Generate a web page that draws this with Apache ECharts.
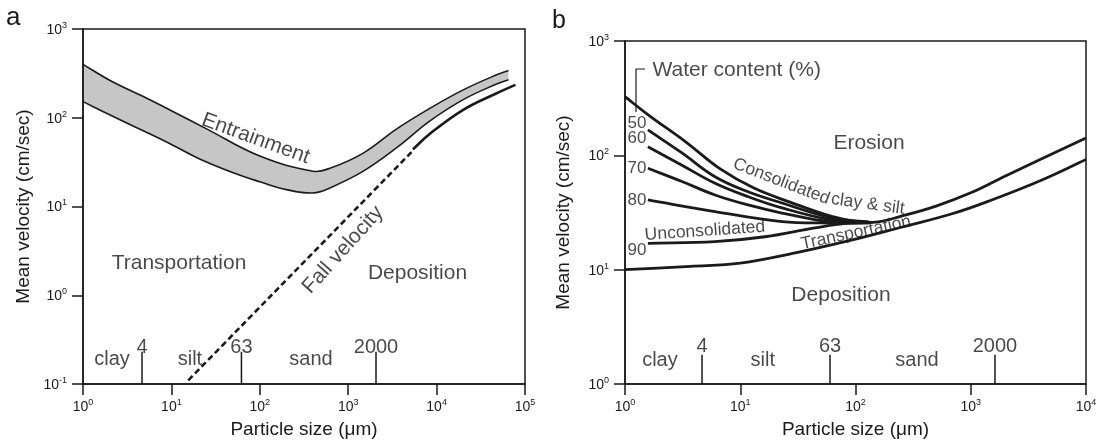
<!DOCTYPE html>
<html><head><meta charset="utf-8">
<script src="https://cdn.jsdelivr.net/npm/echarts@6/dist/echarts.min.js"></script>
<style>html,body{margin:0;padding:0;background:#fff}#c{width:1099px;height:447px}</style>
</head><body><div id="c"></div>
<script>
// ---------- Panel a data ----------
const aXRange = [1, 1e5];
const aYRange = [0.1, 1000];
const entUpper = [[1,400],[2,265],[5,170],[10,120],[25,75],[100,37],[400,25],[622,27],[1482,40],[3540,75],[8420,128],[20000,206],[47800,305],[65000,340]];
const entLower = [[1,152],[2,108],[5,70],[10,50],[20,35],[50,24],[100,19],[200,15.5],[400,14.2],[622,16.2],[1482,25],[3540,46],[8420,92],[20000,160],[47800,240],[65000,268]];
const fallDashed = [[15.5,0.11],[5200,41]];
const fallSolid = [[5400,44],[8400,66],[20000,123],[47800,189],[78000,235]];
const aRegionText = ['Transportation','Deposition','Entrainment','Fall velocity'];
const aRegionPos = [[12.2,2.31],[6080,1.78],[90,58],[873,3.24]];
const aRegionRot = [0,0,-20,48];
const aSizeNames = ['clay','silt','sand'];
const aSizeNamePos = [[2.13,0.187],[16.2,0.187],[379,0.187]];
const aLimitText = ['4','63','2000'];
const aLimitPos = [4.65, 62, 2063];
const aLimitLabelY = 0.261;
const aLimitTop = 0.231;

// ---------- Panel b data ----------
const bXRange = [1, 1e4];
const bYRange = [1, 1000];
const topCurve = [[1,326],[1.6,225],[3.4,130],[6.7,76],[13,52],[27,39],[62,29.2],[100,26.5],[150,26],[250,29.4],[500,36],[1000,47],[2000,66],[4000,92],[10000,142]];
const w50 = [[1.58,167],[3.12,105],[6.04,65],[11.7,48],[23,38.3],[62.5,28.3],[130,26.2]];
const w60 = [[1.58,119],[3.12,82],[6.04,57],[11.7,43.5],[23,34.7],[62.5,27.2],[130,26]];
const w70 = [[1.58,77],[3.12,59],[6.04,45],[11.7,36.8],[23,31.3],[62.5,26.1],[130,25.8]];
const w80 = [[1.58,40.7],[6.04,32.2],[23,26.3],[62.5,25.6],[130,25.6]];
const w90 = [[1.58,17],[6.04,17.6],[16.4,19.4],[44.5,23.2],[86,25.5],[130,25.8]];
const bottomCurve = [[1,10],[3.7,10.7],[10,11.4],[30,14],[90,18],[250,23.5],[700,31],[1500,40.5],[4000,60],[10000,92]];
const waterText = ['50','60','70','80','90'];
const waterPos = [[1.27,191],[1.27,141],[1.27,77],[1.27,40.7],[1.27,14.9]];
const bracket = [[1.246,239],[1.246,569],[1.49,569]];
const bBigText = ['Erosion','Deposition','Water content (%)'];
const bBigPos = [[131,128],[74.8,6.0],[9.31,558]];
const bSmallText = ['Consolidated','clay & silt','Unconsolidated','Transportation'];
const bSmallPos = [[22.8,59],[128,37.5],[4.94,21.8],[101,21.0]];
const bSmallRot = [-21,-8,4,12];
const bSizeNamePos = [[2.01,1.62],[15.7,1.62],[342,1.62]];
const bLimitPos = [4.66, 60.1, 1623];
const bLimitLabelY = 2.11;
const bLimitTop = 1.8;

const FONT = 'Liberation Sans, Arial, sans-serif';
const INK = '#1a1a1a';

function supLabel(v){
  const e = Math.round(Math.log10(v));
  return '{b|10}{s|' + (e < 0 ? '-' + (-e) : e) + '}';
}
const tickRich = {
  b:{fontSize:14, fontFamily:FONT, color:INK, verticalAlign:'bottom', lineHeight:16},
  s:{fontSize:9, fontFamily:FONT, color:INK, verticalAlign:'top', lineHeight:10}
};
function axisCfg(gi, range, name, gap, isY){
  return {
    type:'log', logBase:10, gridIndex:gi, min:range[0], max:range[1], z:5,
    axisLine:{show:true, onZero:false, lineStyle:{color:INK, width:1.5}},
    axisTick:{show:true, length:11, lineStyle:{color:INK, width:1.5}},
    axisLabel:{formatter:supLabel, rich:tickRich, margin: isY ? 16 : 14},
    splitLine:{show:false}, minorTick:{show:false}, minorSplitLine:{show:false},
    name:name, nameLocation:'middle', nameGap:gap,
    nameTextStyle:{fontSize:19, fontFamily:FONT, color:INK}
  };
}
// smooth bezier path through pixel points (rendering only)
function smoothPath(pts, s, move){
  const n = pts.length;
  const cpA = [], cpB = [];
  for (let i = 0; i < n; i++){
    const p = pts[i], prev = pts[i-1] || p, next = pts[i+1] || p;
    const vx = (next[0]-prev[0])*s, vy = (next[1]-prev[1])*s;
    const d0 = Math.hypot(p[0]-prev[0], p[1]-prev[1]);
    const d1 = Math.hypot(next[0]-p[0], next[1]-p[1]);
    const sum = d0 + d1 || 1;
    cpB[i] = [p[0]-vx*d0/sum, p[1]-vy*d0/sum];
    cpA[i] = [p[0]+vx*d1/sum, p[1]+vy*d1/sum];
  }
  let d = (move ? 'M' : 'L') + pts[0][0] + ' ' + pts[0][1];
  for (let i = 0; i < n-1; i++){
    d += ' C' + cpA[i][0] + ' ' + cpA[i][1] + ' ' + cpB[i+1][0] + ' ' + cpB[i+1][1] + ' ' + pts[i+1][0] + ' ' + pts[i+1][1];
  }
  return d;
}
const SM = 0.4;
function curveSeries(gi, data, width, dash, z){
  return {
    type:'custom', xAxisIndex:gi, yAxisIndex:gi, data:[[1,1]], silent:true, z: z || 3,
    renderItem:(params, api) => {
      const pts = data.map(p => api.coord(p));
      return {type:'path', shape:{pathData: smoothPath(pts, SM, true)},
        style:{fill:null, stroke:INK, lineWidth:width, lineDash: dash || null, lineCap:'butt', lineJoin:'round'}};
    }
  };
}
function bandSeries(gi, upper, lower, color){
  return {
    type:'custom', xAxisIndex:gi, yAxisIndex:gi, data:[[1,1]], silent:true, z:2,
    renderItem:(params, api) => {
      const up = upper.map(p => api.coord(p));
      const lo = lower.map(p => api.coord(p)).reverse();
      const d = smoothPath(up, SM, true) + ' ' + smoothPath(lo, SM, false) + ' Z';
      return {type:'path', shape:{pathData:d}, style:{fill:color, stroke:null}};
    }
  };
}
function textSeries(gi, texts, pos, rots, size){
  return {
    type:'scatter', xAxisIndex:gi, yAxisIndex:gi, symbol:'circle', symbolSize:1, silent:true, z:6,
    itemStyle:{color:'rgba(0,0,0,0)'},
    data: texts.map((t,i)=>({value:pos[i], label:{formatter:t, rotate:rots ? rots[i] : 0}})),
    label:{show:true, position:'inside', fontSize:size, fontFamily:FONT, color:INK}
  };
}
function straightSeries(gi, data, width){
  return {type:'line', xAxisIndex:gi, yAxisIndex:gi, data:data, symbol:'none', smooth:false, silent:true, z:4,
    lineStyle:{color:INK, width:width}};
}
function markerSeries(gi, xs, bottom, top){
  return xs.map(x => straightSeries(gi, [[x,bottom],[x,top]], 1.5));
}

const series = [
  bandSeries(0, entUpper, entLower, '#c6c6c6'),
  curveSeries(0, entUpper, 1.6),
  curveSeries(0, entLower, 1.6),
  curveSeries(0, fallDashed, 2.6, [6,3.5]),
  curveSeries(0, fallSolid, 2.6),
  ...markerSeries(0, aLimitPos, aYRange[0], aLimitTop),
  textSeries(0, aRegionText, aRegionPos, aRegionRot, 21),
  textSeries(0, aSizeNames, aSizeNamePos, null, 20),
  textSeries(0, aLimitText, aLimitPos.map(x=>[x,aLimitLabelY]), null, 20),
  // panel b
  curveSeries(1, topCurve, 2.8),
  curveSeries(1, w50, 2.8),
  curveSeries(1, w60, 2.8),
  curveSeries(1, w70, 2.8),
  curveSeries(1, w80, 2.8),
  curveSeries(1, w90, 2.8),
  curveSeries(1, bottomCurve, 2.8),
  straightSeries(1, bracket, 1.2),
  ...markerSeries(1, bLimitPos, bYRange[0], bLimitTop),
  textSeries(1, waterText, waterPos, null, 17),
  textSeries(1, bBigText, bBigPos, null, 21),
  textSeries(1, bSmallText, bSmallPos, bSmallRot, 17.5),
  textSeries(1, aSizeNames, bSizeNamePos, null, 20),
  textSeries(1, aLimitText, bLimitPos.map(x=>[x,bLimitLabelY]), null, 20)
];

const chart = echarts.init(document.getElementById('c'), null, {renderer:'canvas'});
chart.setOption({
  animation:false,
  backgroundColor:'#ffffff',
  grid:[
    {left:83, top:29, width:442, height:355, show:true, borderColor:INK, borderWidth:1.5, z:5, outerBoundsMode:'none'},
    {left:625, top:41, width:461, height:343, show:true, borderColor:INK, borderWidth:1.5, z:5, outerBoundsMode:'none'}
  ],
  xAxis:[axisCfg(0, aXRange, 'Particle size (μm)', 36, false), axisCfg(1, bXRange, 'Particle size (μm)', 36, false)],
  yAxis:[axisCfg(0, aYRange, 'Mean velocity (cm/sec)', 50, true), axisCfg(1, bYRange, 'Mean velocity (cm/sec)', 52, true)],
  graphic:[
    {type:'text', left:6, top:5, style:{text:'a', fontSize:26, fontFamily:FONT, fill:INK}},
    {type:'text', left:552, top:9, style:{text:'b', fontSize:25, fontFamily:FONT, fill:INK}}
  ],
  series:series
});
</script></body></html>
